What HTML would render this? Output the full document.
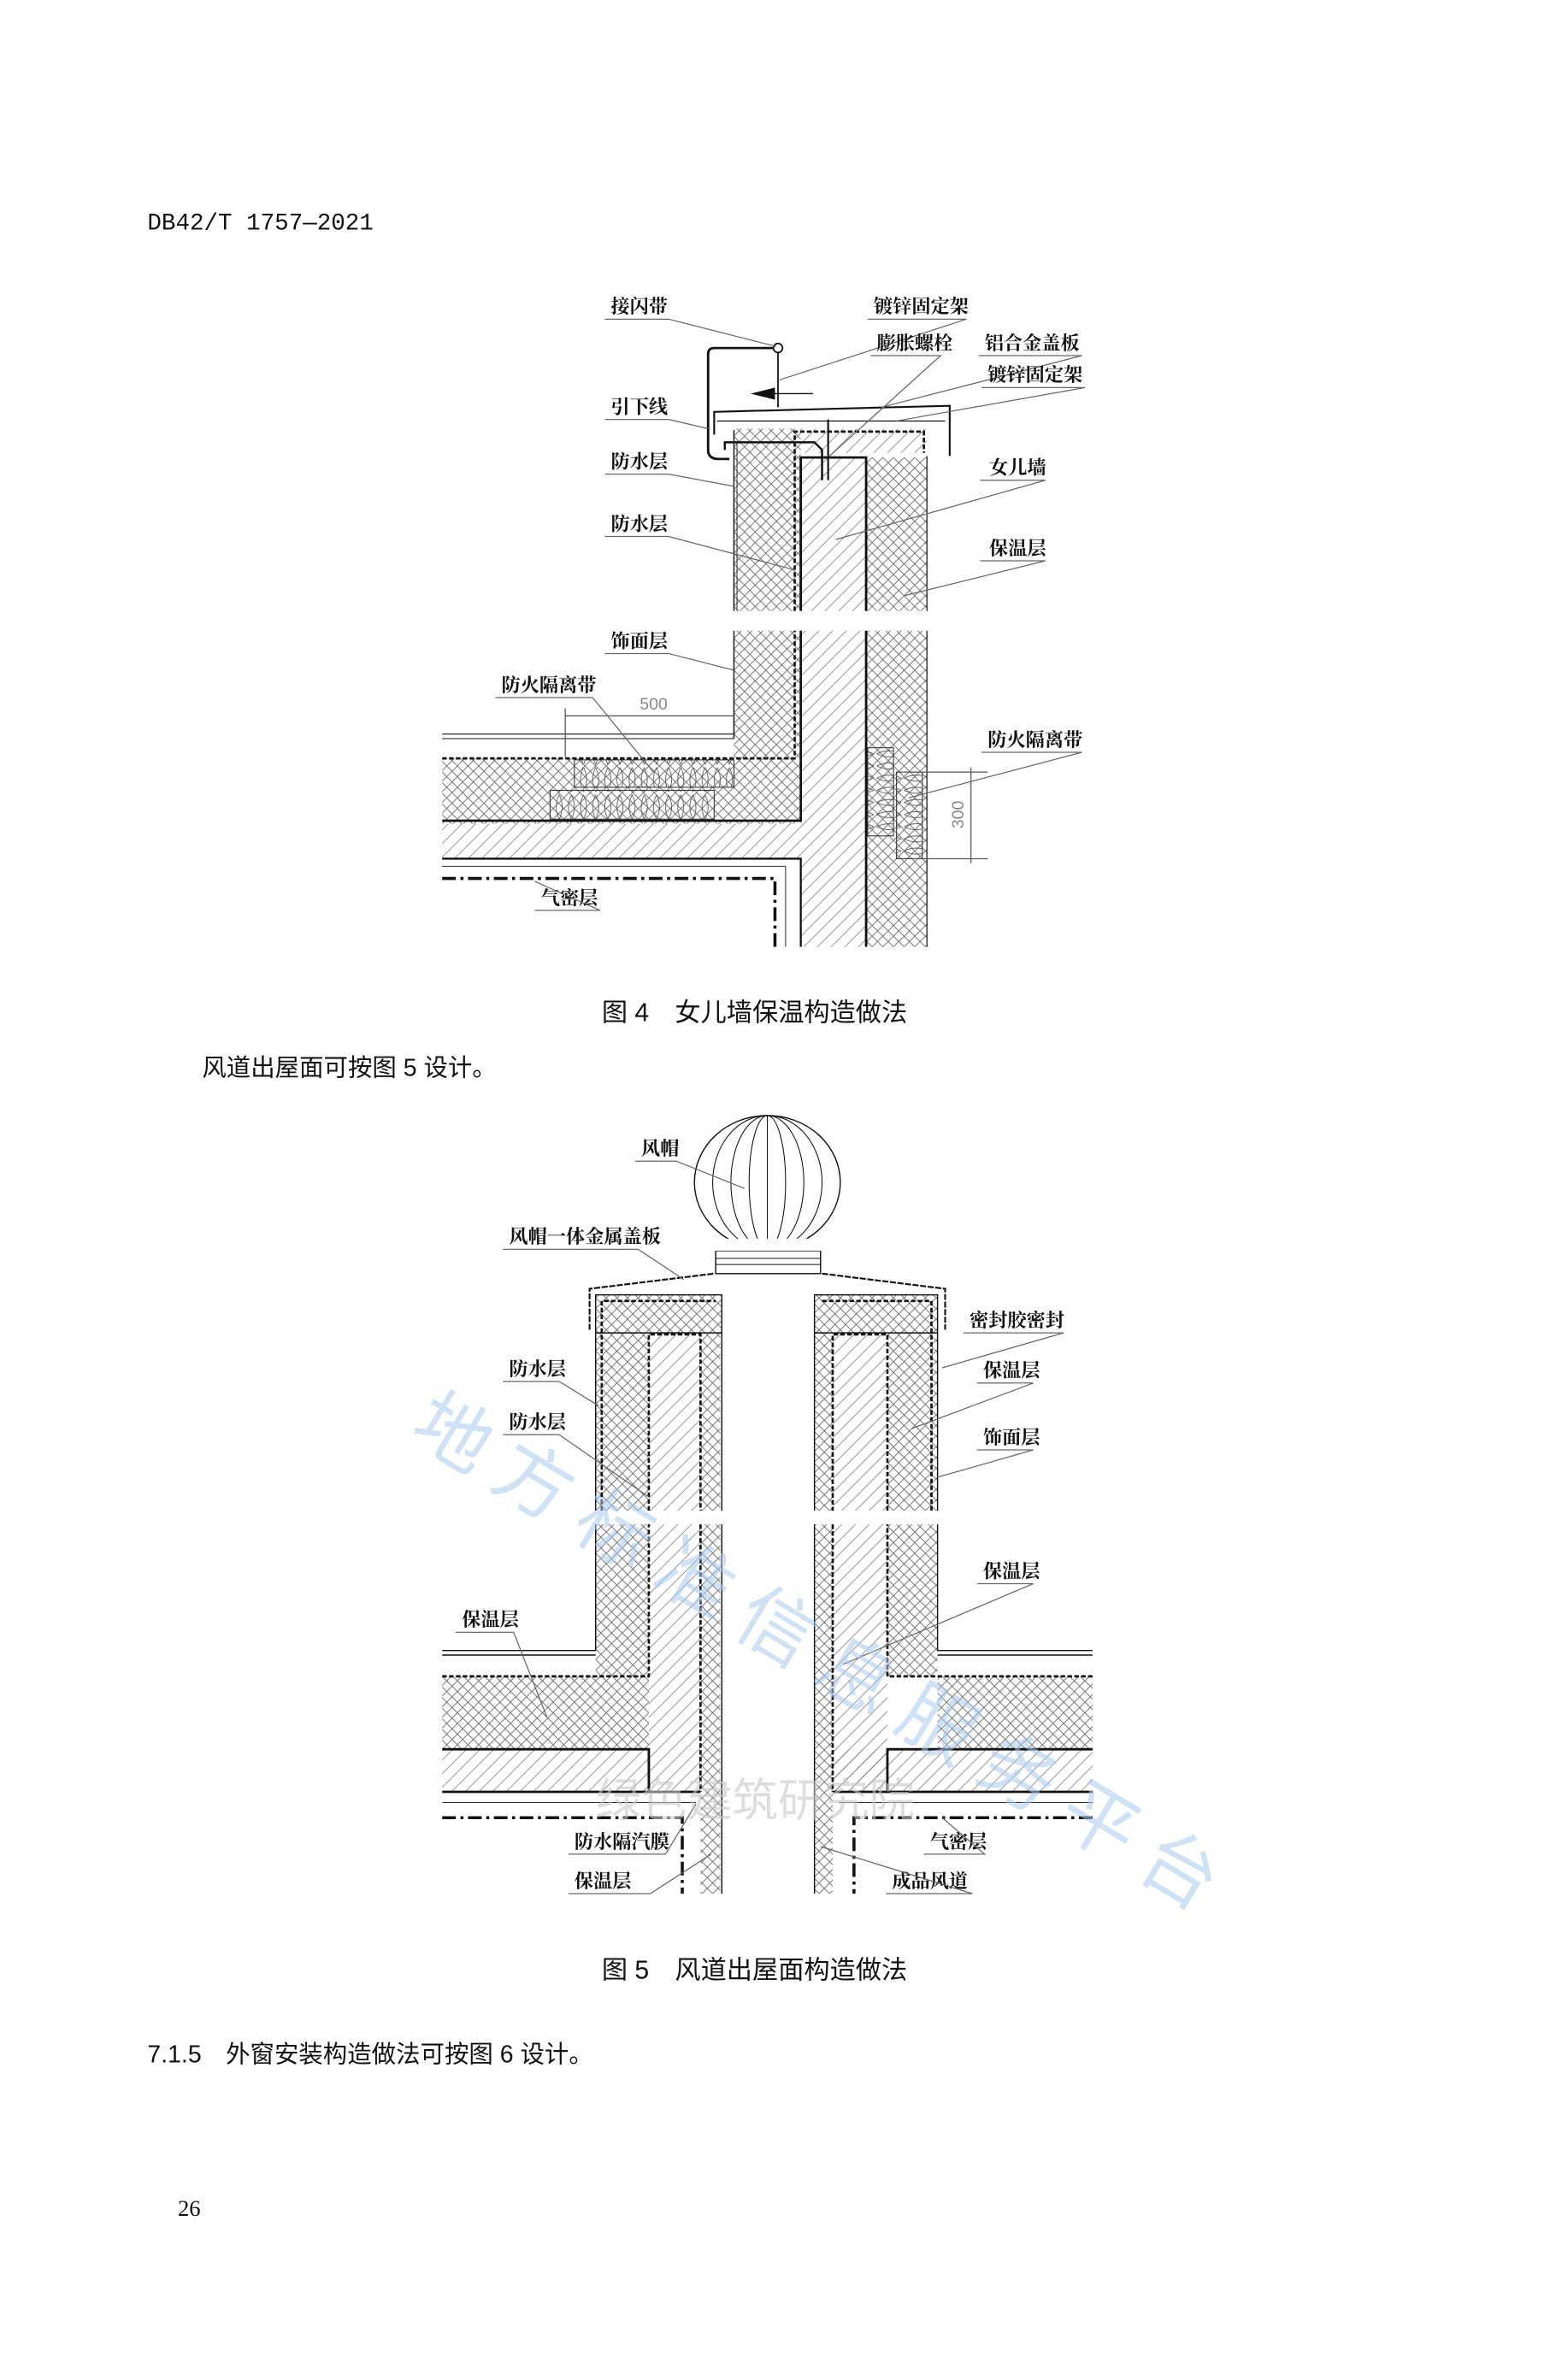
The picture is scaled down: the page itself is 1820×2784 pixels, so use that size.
<!DOCTYPE html>
<html><head><meta charset="utf-8"><style>
html,body{margin:0;padding:0;background:#fff;}
svg{display:block;}
text{font-family:"Liberation Sans","Noto Sans CJK SC",sans-serif;fill:#111;}
.lb{font-size:12.5px;font-weight:bold;font-family:"Noto Serif CJK SC","Noto Sans CJK SC",serif;}
.ul{stroke:#666;stroke-width:0.7;fill:none;}
.ld{stroke:#555;stroke-width:0.7;fill:none;}
.k{stroke:#111;fill:none;}
</style></head><body>
<svg width="1820" height="2784" viewBox="0 0 1024 1566" preserveAspectRatio="none" xmlns="http://www.w3.org/2000/svg">
<defs>
<pattern id="xh" width="7" height="7" patternUnits="userSpaceOnUse">
<path d="M0,0 L7,7 M7,0 L0,7" stroke="#666" stroke-width="0.5"/>
</pattern>
<pattern id="dh" width="9" height="9" patternUnits="userSpaceOnUse">
<path d="M0,9 L9,0 M-2,2 L2,-2 M7,11 L11,7" stroke="#888" stroke-width="0.5"/>
</pattern>
<pattern id="fb" width="8" height="18" patternUnits="userSpaceOnUse">
<path d="M0,1 Q4,9 0,17 M8,1 Q4,9 8,17" stroke="#555" stroke-width="0.5" fill="none"/>
</pattern>
<pattern id="fbv" width="18" height="8" patternUnits="userSpaceOnUse">
<path d="M1,0 Q9,4 17,0 M1,8 Q9,4 17,8" stroke="#555" stroke-width="0.5" fill="none"/>
</pattern>
</defs>
<rect width="1024" height="1566" fill="#fff"/>

<text x="97" y="151" style="font-family:'Liberation Mono','Noto Sans CJK SC',monospace;font-size:15.5px">DB42/T 1757—2021</text>

<!-- ============ FIG 4 ============ -->
<g>
<rect x="291" y="542" width="236" height="23" fill="url(#dh)"/>
<rect x="527" y="301" width="43" height="101" fill="url(#dh)"/>
<rect x="527" y="415" width="43" height="208" fill="url(#dh)"/>
<rect x="291" y="499" width="236" height="43" fill="url(#xh)"/>
<rect x="483" y="282" width="44" height="120" fill="url(#xh)"/>
<rect x="483" y="415" width="44" height="84" fill="url(#xh)"/>
<rect x="570" y="301" width="40" height="101" fill="url(#xh)"/>
<rect x="570" y="415" width="40" height="208" fill="url(#xh)"/>
<rect x="527" y="282" width="83" height="16" fill="url(#dh)"/>
<rect x="291" y="486" width="192" height="11" fill="#fff"/>
<line x1="291" y1="483" x2="483" y2="483" class="k" stroke-width="0.6"/>
<line x1="291" y1="486" x2="483" y2="486" class="k" stroke-width="0.6"/>
<path d="M291,499 L523,499 L523,415 M523,402 L523,284 L608,284 L608,298" class="k" stroke-width="1.5" stroke-dasharray="3,1.5"/>
<path d="M291,540 L527,540 L527,415" class="k" stroke-width="1.5"/>
<path d="M527,402 L527,301 L570,301 L570,402 M570,415 L570,623" class="k" stroke-width="1.6"/>
<path d="M291,565 L527,565 L527,623" class="k" stroke-width="1.3"/>
<line x1="483" y1="283" x2="483" y2="402" class="k" stroke-width="0.8"/>
<line x1="483" y1="415" x2="483" y2="486" class="k" stroke-width="0.8"/>
<line x1="485" y1="290" x2="485" y2="402" class="k" stroke-width="0.5"/>
<line x1="610" y1="300" x2="610" y2="402" class="k" stroke-width="0.7"/>
<line x1="610" y1="415" x2="610" y2="623" class="k" stroke-width="0.7"/>
<line x1="291" y1="570" x2="517" y2="570" class="k" stroke-width="0.5"/>
<line x1="517" y1="570" x2="517" y2="623" class="k" stroke-width="0.5"/>
<path d="M291,578 L510,578 L510,623" class="k" stroke-width="2" stroke-dasharray="9,3,2,3"/>
<rect x="378" y="500" width="105" height="18" fill="url(#fb)" stroke="#333" stroke-width="0.6"/>
<rect x="362" y="520" width="108" height="19" fill="url(#fb)" stroke="#333" stroke-width="0.6"/>
<rect x="571" y="492" width="17" height="58" fill="url(#fbv)" stroke="#333" stroke-width="0.6"/>
<rect x="590" y="508" width="17" height="57" fill="url(#fbv)" stroke="#333" stroke-width="0.6"/>
<path d="M470,286 L470,271 L625,267 L625,300" class="k" stroke-width="1.2"/>
<path d="M472,277 L622,277" class="k" stroke-width="0.7"/>
<path d="M512,229 L470,229 Q466,229 466,233 L466,296 Q466,302 473,302 L480,302" class="k" stroke-width="1.6"/>
<circle cx="512" cy="229" r="3" fill="#fff" stroke="#111" stroke-width="1"/>
<line x1="512" y1="232" x2="512" y2="268" class="k" stroke-width="1"/>
<path d="M477,296 L477,291 L536,291 L541,296 L541,316" class="k" stroke-width="1.4"/>
<line x1="545" y1="276" x2="545" y2="316" class="k" stroke-width="1.2"/>
<path d="M535,259 L504,259" class="k" stroke-width="0.8"/>
<path d="M494,259 L510,255 L510,263 Z" fill="#111"/>
<path d="M372,471 L483,471 M372,466 L372,498" class="ld"/>
<text x="421" y="467" style="font-size:11px;fill:#888">500</text>
<path d="M600,508 L650,508 M600,565 L650,565 M639,505 L639,568" class="ld"/>
<text transform="translate(634,536) rotate(-90)" text-anchor="middle" style="font-size:11px;fill:#888">300</text>
</g>
<g>
<text class="lb" x="402" y="206">接闪带</text><path class="ul" d="M398,210 L440,210 L511,228"/>
<text class="lb" x="575" y="206">镀锌固定架</text><path class="ul" d="M571,210 L636,210 L513,250"/>
<text class="lb" x="577" y="230">膨胀螺栓</text><path class="ul" d="M573,234 L619,234 L546,300"/>
<text class="lb" x="648" y="230">铝合金盖板</text><path class="ul" d="M644,234 L712,234 L580,268"/>
<text class="lb" x="650" y="251">镀锌固定架</text><path class="ul" d="M646,255 L714,255 L590,277"/>
<text class="lb" x="402" y="272">引下线</text><path class="ul" d="M398,276 L440,276 L466,282"/>
<text class="lb" x="402" y="308">防水层</text><path class="ul" d="M398,312 L440,312 L483,320"/>
<text class="lb" x="402" y="349">防水层</text><path class="ul" d="M398,353 L440,353 L523,375"/>
<text class="lb" x="651" y="312">女儿墙</text><path class="ul" d="M645,316 L688,316 L550,355"/>
<text class="lb" x="651" y="365">保温层</text><path class="ul" d="M645,369 L688,369 L595,392"/>
<text class="lb" x="402" y="426">饰面层</text><path class="ul" d="M398,430 L440,430 L483,441"/>
<text class="lb" x="330" y="455">防火隔离带</text><path class="ul" d="M326,459 L390,459 L430,508"/>
<text class="lb" x="650" y="491">防火隔离带</text><path class="ul" d="M646,495 L712,495 L598,525"/>
<text class="lb" x="356" y="595">气密层</text><path class="ul" d="M352,599 L395,599 L352,580"/>
</g>
<text x="396" y="672" style="font-size:17px">图 4　女儿墙保温构造做法</text>
<text x="133" y="708" style="font-size:16px">风道出屋面可按图 5 设计。</text>

<!-- ============ FIG 5 ============ -->
<g>
<rect x="291" y="1103" width="136" height="48" fill="url(#xh)"/>
<rect x="291" y="1151" width="136" height="28" fill="url(#dh)"/>
<rect x="617" y="1103" width="102" height="48" fill="url(#xh)"/>
<rect x="548" y="1151" width="171" height="28" fill="url(#dh)"/>
<rect x="392" y="852" width="35" height="142" fill="url(#xh)"/>
<rect x="392" y="1003" width="35" height="100" fill="url(#xh)"/>
<rect x="427" y="852" width="48" height="25" fill="url(#xh)"/>
<rect x="427" y="877" width="34" height="117" fill="url(#dh)"/>
<rect x="427" y="1003" width="34" height="176" fill="url(#dh)"/>
<rect x="461" y="877" width="13" height="117" fill="url(#xh)"/>
<rect x="461" y="1003" width="13" height="243" fill="url(#xh)"/>
<rect x="584" y="852" width="33" height="142" fill="url(#xh)"/>
<rect x="584" y="1003" width="33" height="100" fill="url(#xh)"/>
<rect x="536" y="852" width="48" height="25" fill="url(#xh)"/>
<rect x="548" y="877" width="36" height="117" fill="url(#dh)"/>
<rect x="548" y="1003" width="36" height="176" fill="url(#dh)"/>
<rect x="536" y="877" width="12" height="117" fill="url(#xh)"/>
<rect x="536" y="1003" width="12" height="243" fill="url(#xh)"/>
<g class="k" stroke-width="0.8">
<path d="M392,994 L392,852 L475,852 L475,994 M392,1003 L392,1086 L291,1086 M291,1089 L392,1089"/>
<path d="M617,994 L617,852 L536,852 L536,994 M617,1003 L617,1086 L719,1086 M719,1089 L617,1089"/>
<path d="M475,1003 L475,1246 M536,1003 L536,1246 M392,877 L475,877 M536,877 L617,877"/>
</g>
<g class="k" stroke-width="1.5" stroke-dasharray="3,1.5">
<path d="M291,1103 L427,1103 L427,1003 M427,994 L427,878 L461,878 L461,994 M461,1003 L461,1179"/>
<path d="M719,1103 L584,1103 L584,1003 M584,994 L584,878 L548,878 L548,994 M548,1003 L548,1179"/>
<path d="M396,994 L396,856 L471,856 M613,994 L613,856 L540,856"/>
</g>
<g class="k" stroke-width="1.6">
<path d="M291,1151 L427,1151 L427,1179 M719,1151 L584,1151 L584,1179"/>
<path d="M291,1179 L461,1179 M719,1179 L548,1179"/>
</g>
<path d="M291,1196 L449,1196 L449,1246 M719,1196 L562,1196 L562,1246" class="k" stroke-width="2" stroke-dasharray="9,3,2,3"/>
<path d="M291,1186 L458,1186 M719,1186 L552,1186" class="k" stroke-width="0.5"/>
<path d="M388,875 L388,848 L470,838 M541,838 L622,848 L622,875" class="k" stroke-width="1.2" stroke-dasharray="4,1"/>
<rect x="471" y="823" width="69" height="15" fill="#fff" stroke="#111" stroke-width="0.8"/>
<line x1="471" y1="828" x2="540" y2="828" class="k" stroke-width="0.6"/>
<line x1="471" y1="832" x2="540" y2="832" class="k" stroke-width="0.6"/>
<ellipse cx="505" cy="778" rx="48" ry="44" fill="#fff" stroke="#111" stroke-width="0.8"/>
<g class="k" stroke-width="0.6">
<path d="M505,734 L505,822"/>
<ellipse cx="505" cy="778" rx="12" ry="44"/>
<ellipse cx="505" cy="778" rx="24" ry="44"/>
<ellipse cx="505" cy="778" rx="36" ry="44"/>
</g>
<rect x="470" y="815" width="71" height="8" fill="#fff"/>
</g>
<g>
<text class="lb" x="422" y="760">风帽</text><path class="ul" d="M418,764 L445,764 L490,782"/>
<text class="lb" x="335" y="818">风帽一体金属盖板</text><path class="ul" d="M331,822 L420,822 L450,842"/>
<text class="lb" x="638" y="873">密封胶密封</text><path class="ul" d="M634,877 L700,877 L620,900"/>
<text class="lb" x="335" y="905">防水层</text><path class="ul" d="M331,909 L368,909 L394,925"/>
<text class="lb" x="335" y="940">防水层</text><path class="ul" d="M331,944 L368,944 L427,985"/>
<text class="lb" x="647" y="906">保温层</text><path class="ul" d="M643,910 L680,910 L600,940"/>
<text class="lb" x="647" y="950">饰面层</text><path class="ul" d="M643,954 L680,954 L617,972"/>
<text class="lb" x="647" y="1038">保温层</text><path class="ul" d="M643,1042 L680,1042 L555,1095"/>
<text class="lb" x="304" y="1070">保温层</text><path class="ul" d="M300,1074 L338,1074 L360,1130"/>
<text class="lb" x="378" y="1216">防水隔汽膜</text><path class="ul" d="M374,1220 L438,1220 L458,1187"/>
<text class="lb" x="378" y="1242">保温层</text><path class="ul" d="M374,1246 L428,1246 L468,1220"/>
<text class="lb" x="612" y="1216">气密层</text><path class="ul" d="M608,1220 L648,1220 L620,1196"/>
<text class="lb" x="587" y="1242">成品风道</text><path class="ul" d="M583,1246 L640,1246 L540,1215"/>
</g>
<text transform="translate(268,945) rotate(31)" style="fill:#a9c9ee;opacity:0.55;font-size:50px;letter-spacing:12px;font-family:'Noto Sans CJK SC',sans-serif">地方标准信息服务平台</text>
<text x="392" y="1195" style="font-size:30px;fill:#c8c8c8;opacity:0.6;font-family:'Noto Sans CJK SC',sans-serif">绿色建筑研究院</text>

<text x="396" y="1302" style="font-size:17px">图 5　风道出屋面构造做法</text>
<text x="97" y="1357" style="font-size:16px">7.1.5　外窗安装构造做法可按图 6 设计。</text>
<text x="117" y="1458" style="font-size:15px;font-family:'Liberation Serif',serif">26</text>
</svg>
</body></html>
